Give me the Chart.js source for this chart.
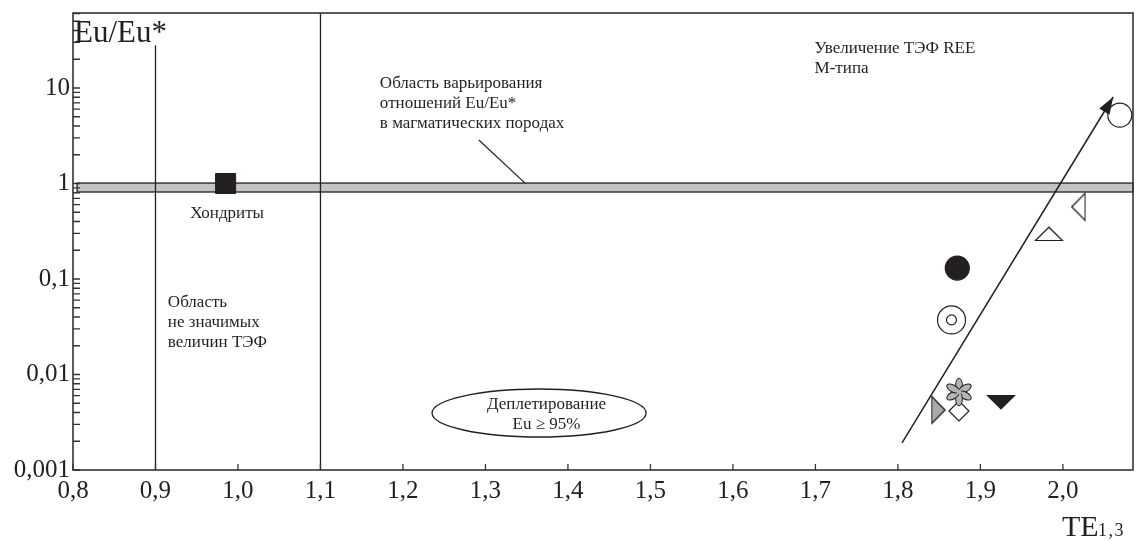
<!DOCTYPE html>
<html>
<head>
<meta charset="utf-8">
<script src="https://cdn.jsdelivr.net/npm/chart.js@4.4.1/dist/chart.umd.min.js"></script>
<style>
  html, body { margin: 0; background: #fff; }
  #wrap { width: 1140px; height: 541px; }
</style>
</head>
<body>
<div id="wrap"><canvas id="chart"></canvas></div>
<script>
// axis ticks
const xTicks = [0.8, 0.9, 1.0, 1.1, 1.2, 1.3, 1.4, 1.5, 1.6, 1.7, 1.8, 1.9, 2.0];
const yTicks = [0.001, 0.01, 0.1, 1, 10];

// samples (TE1,3 vs Eu/Eu*)
const sampleTE = [2.069, 2.019, 1.983, 1.872, 1.865, 1.849, 1.874, 1.874, 1.925];
const sampleEu = [5.2, 0.57, 0.296, 0.130, 0.0373, 0.00425, 0.00656, 0.00415, 0.00515];
const sampleMark = ['openCircle', 'leftTri', 'upTri', 'dot', 'ring', 'grayTri', 'flower', 'diamond', 'downTri'];

// chondrites
const chondriteTE = [0.985];
const chondriteEu = [1.0];

// band of Eu/Eu* in magmatic rocks
const bandTE = [0.805, 2.085];
const bandEu = [0.815, 1.01];

// trend arrow, boundary lines, leader line
const trendTE = [1.805, 2.061];
const trendEu = [0.00192, 8.05];
const boundaryTE = [0.9, 1.1];
const boundaryTop = [28, 61];
const leaderTE = [1.292, 1.348];
const leaderEu = [2.85, 1.01];

const INK = '#231f20';
const FONT = '"Liberation Serif", "Times New Roman", serif';

// custom marks
function makeTri(fill) {
  const c = document.createElement('canvas');
  c.width = 30; c.height = 16;
  const g = c.getContext('2d');
  g.beginPath();
  g.moveTo(1.5, 14.5); g.lineTo(28.5, 14.5); g.lineTo(15, 1.2); g.closePath();
  g.fillStyle = fill; g.fill();
  g.strokeStyle = INK; g.lineWidth = 1.2; g.stroke();
  return c;
}
function makeFlower() {
  const c = document.createElement('canvas');
  c.width = 30; c.height = 30;
  const g = c.getContext('2d');
  g.translate(15, 15);
  for (let i = 0; i < 6; i++) {
    g.save();
    g.rotate(i * Math.PI / 3);
    g.beginPath();
    g.ellipse(0, -7, 3.4, 6.8, 0, 0, Math.PI * 2);
    g.fillStyle = '#b4b4b4'; g.fill();
    g.strokeStyle = INK; g.lineWidth = 1; g.stroke();
    g.restore();
  }
  g.beginPath(); g.arc(0, 0, 2.4, 0, Math.PI * 2);
  g.fillStyle = '#b4b4b4'; g.fill();
  return c;
}

const markStyle = {
  openCircle: { pointStyle: 'circle', radius: 12, bg: '#fff', bd: INK },
  leftTri:    { pointStyle: makeTri('#fff'), rotation: 270 },
  upTri:      { pointStyle: makeTri('#fff'), rotation: 0 },
  dot:        { pointStyle: 'circle', radius: 12, bg: INK, bd: INK },
  ring:       { pointStyle: 'circle', radius: 14, bg: '#fff', bd: INK },
  grayTri:    { pointStyle: makeTri('#a8a8a8'), rotation: 90 },
  flower:     { pointStyle: makeFlower() },
  diamond:    { pointStyle: 'rectRot', radius: 10, bg: '#fff', bd: INK },
  downTri:    { pointStyle: makeTri(INK), rotation: 180 }
};

function lineSet(xs, ys, width) {
  return {
    data: xs.map((x, i) => ({ x: x, y: ys[i] })),
    showLine: true, borderColor: INK, borderWidth: width || 1.3,
    pointRadius: 0, fill: false, order: 1
  };
}

const datasets = [];
boundaryTE.forEach((x, i) => datasets.push(lineSet([x, x], [0.001, boundaryTop[i]], 1.3)));
datasets.push(lineSet(leaderTE, leaderEu, 1.2));
datasets.push(lineSet(trendTE, trendEu, 1.5));
datasets.push({
  data: [{ x: chondriteTE[0], y: chondriteEu[0] }],
  pointStyle: 'rect', pointRadius: 14.2, backgroundColor: INK, borderColor: INK, borderWidth: 1, order: 3
});
sampleMark.forEach((m, i) => {
  const s = markStyle[m];
  datasets.push({
    data: [{ x: sampleTE[i], y: sampleEu[i] }],
    pointStyle: s.pointStyle, pointRadius: s.radius || 10, pointRotation: s.rotation || 0,
    backgroundColor: s.bg || '#fff', borderColor: s.bd || INK, borderWidth: 1.2,
    order: m === 'diamond' ? 4 : 3
  });
  if (m === 'ring') {
    datasets.push({
      data: [{ x: sampleTE[i], y: sampleEu[i] }],
      pointStyle: 'circle', pointRadius: 5, backgroundColor: '#fff', borderColor: INK, borderWidth: 1.2,
      order: 2
    });
  }
});

const notes = [
  { x: 1.172, y: 10, align: 'left', lines: ['Область варьирования', 'отношений Eu/Eu*', 'в магматических породах'] },
  { x: 1.699, y: 23.2, align: 'left', lines: ['Увеличение ТЭФ REE', 'М-типа'] },
  { x: 0.942, y: 0.435, align: 'left', lines: ['Хондриты'] },
  { x: 0.915, y: 0.051, align: 'left', lines: ['Область', 'не значимых', 'величин ТЭФ'] },
  { x: 1.374, y: 0.0044, align: 'center', lines: ['Деплетирование', 'Eu ≥ 95%'] }
];
const ellipseAt = { x: 1.365, y: 0.00395 };

const drawExtras = {
  id: 'drawExtras',
  beforeDatasetsDraw(chart) {
    const { ctx, scales: { x, y } } = chart;
    // grey band
    const x0 = x.getPixelForValue(bandTE[0]), x1 = x.getPixelForValue(bandTE[1]);
    const y0 = y.getPixelForValue(bandEu[1]), y1 = y.getPixelForValue(bandEu[0]);
    ctx.save();
    ctx.fillStyle = '#c4c4c4';
    ctx.fillRect(x0, y0, x1 - x0, y1 - y0);
    ctx.strokeStyle = '#3a3a3a'; ctx.lineWidth = 1.5;
    ctx.strokeRect(x0, y0, x1 - x0, y1 - y0);
    // ellipse
    ctx.beginPath();
    ctx.ellipse(x.getPixelForValue(ellipseAt.x), y.getPixelForValue(ellipseAt.y), 107, 24, 0, 0, Math.PI * 2);
    ctx.fillStyle = '#fff'; ctx.fill();
    ctx.strokeStyle = INK; ctx.lineWidth = 1.3; ctx.stroke();
    ctx.restore();
  },
  afterDatasetsDraw(chart) {
    const { ctx, chartArea: a, scales: { x, y } } = chart;
    ctx.save();
    // frame
    ctx.strokeStyle = '#333'; ctx.lineWidth = 1.6;
    ctx.strokeRect(a.left, a.top, a.right - a.left, a.bottom - a.top);
    // inward ticks
    ctx.lineWidth = 1.3;
    ctx.beginPath();
    xTicks.forEach(v => {
      const px = x.getPixelForValue(v);
      ctx.moveTo(px, a.bottom); ctx.lineTo(px, a.bottom - 6);
    });
    yTicks.forEach(d => {
      for (let k = 1; k <= 9; k++) {
        const v = d * k;
        if (v > y.max) break;
        const py = y.getPixelForValue(v);
        ctx.moveTo(a.left, py); ctx.lineTo(a.left + 7, py);
      }
    });
    ctx.stroke();
    // arrow head
    const tx = x.getPixelForValue(trendTE[1]), ty = y.getPixelForValue(trendEu[1]);
    const sx = x.getPixelForValue(trendTE[0]), sy = y.getPixelForValue(trendEu[0]);
    const ang = Math.atan2(ty - sy, tx - sx);
    ctx.translate(tx, ty); ctx.rotate(ang);
    ctx.beginPath();
    ctx.moveTo(0, 0); ctx.lineTo(-17, -6); ctx.lineTo(-17, 6); ctx.closePath();
    ctx.fillStyle = INK; ctx.fill();
    ctx.restore();

    // notes
    ctx.save();
    ctx.fillStyle = INK;
    ctx.font = '17px ' + FONT;
    ctx.textBaseline = 'alphabetic';
    notes.forEach(n => {
      ctx.textAlign = n.align;
      const px = x.getPixelForValue(n.x), py = y.getPixelForValue(n.y);
      n.lines.forEach((t, i) => ctx.fillText(t, px, py + i * 20));
    });
    // axis titles
    ctx.textAlign = 'left';
    ctx.font = '31px ' + FONT;
    ctx.fillText('Eu/Eu*', a.left + 1, a.top + 29);
    ctx.font = '30px ' + FONT;
    ctx.fillText('TE', 1062, 536);
    ctx.font = '18px ' + FONT;
    let cx = 1098;
    ['1', ',', '3'].forEach(ch => { ctx.fillText(ch, cx, 536); cx += ctx.measureText(ch).width + 1.5; });
    ctx.restore();
  }
};

new Chart(document.getElementById('chart'), {
  type: 'scatter',
  data: { datasets: datasets },
  options: {
    responsive: true,
    maintainAspectRatio: false,
    animation: false,
    layout: { autoPadding: false, padding: { top: 13, right: 7, left: 0, bottom: 0 } },
    plugins: { legend: { display: false }, tooltip: { enabled: false } },
    scales: {
      x: {
        type: 'linear', min: 0.8, max: 2.085,
        grid: { display: false, drawTicks: false }, border: { display: false },
        afterBuildTicks: s => { s.ticks = xTicks.map(v => ({ value: v })); },
        afterFit: s => { s.height = 71; s.paddingLeft = 0; s.paddingRight = 0; },
        ticks: {
          padding: 6, color: INK, font: { family: FONT, size: 25 }, maxRotation: 0,
          callback: v => Number(v).toFixed(1).replace('.', ',')
        }
      },
      y: {
        type: 'logarithmic', min: 0.001, max: 61,
        grid: { display: false, drawTicks: false }, border: { display: false },
        afterBuildTicks: s => { s.ticks = yTicks.map(v => ({ value: v, major: true })); },
        afterFit: s => { s.width = 73; s.paddingTop = 0; s.paddingBottom = 0; },
        ticks: {
          padding: 3, color: INK, font: { family: FONT, size: 25 },
          callback: v => String(v).replace('.', ',')
        }
      }
    }
  },
  plugins: [drawExtras]
});
</script>
</body>
</html>
